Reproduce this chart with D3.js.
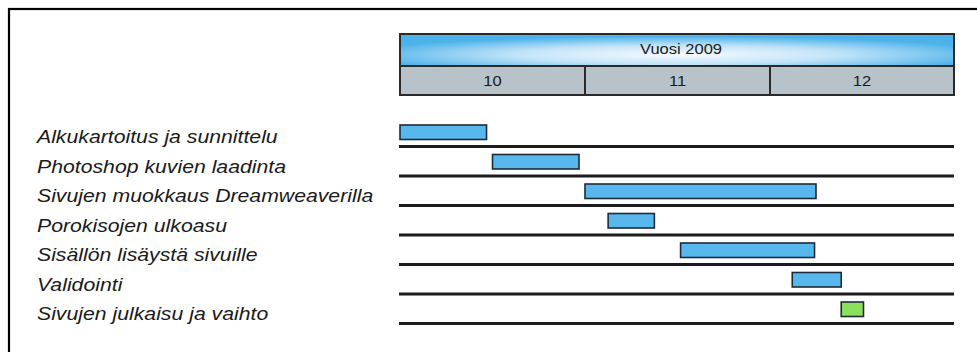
<!DOCTYPE html>
<html>
<head>
<meta charset="utf-8">
<script src="https://cdn.jsdelivr.net/npm/d3@7"></script>
<style>
  html, body { margin: 0; padding: 0; background: #fff; }
  svg { display: block; }
</style>
</head>
<body>
<svg id="chart" width="977" height="352"></svg>
<script>
// Project schedule, autumn 2009
const yearLabel = "Vuosi 2009";
const monthStarts = ["2009-10-01", "2009-11-01", "2009-12-01", "2010-01-01"];
const monthLabels = ["10", "11", "12"];

const tasks = [
  "Alkukartoitus ja sunnittelu",
  "Photoshop kuvien laadinta",
  "Sivujen muokkaus Dreamweaverilla",
  "Porokisojen ulkoasu",
  "Sisällön lisäystä sivuille",
  "Validointi",
  "Sivujen julkaisu ja vaihto"
];
const starts = ["2009-10-01 00", "2009-10-16 12", "2009-11-01 00", "2009-11-04 18", "2009-11-16 12", "2009-12-04 18", "2009-12-13 00"];
const ends   = ["2009-10-15 12", "2009-10-31 00", "2009-12-08 18", "2009-11-12 06", "2009-12-08 12", "2009-12-13 00", "2009-12-16 18"];
const phases = ["työ", "työ", "työ", "työ", "työ", "työ", "julkaisu"];

const parse = d3.timeParse("%Y-%m-%d");
const parseT = d3.timeParse("%Y-%m-%d %H");
const svg = d3.select("#chart");
const sx = 1.18; // horizontal text stretch

// Outer frame
svg.append("rect")
  .attr("x", 9).attr("y", 9).attr("width", 1000).attr("height", 400)
  .attr("fill", "none").attr("stroke", "#000").attr("stroke-width", 2.2);

// Time axis: each month gets an equal column
const x = d3.scaleTime()
  .domain(monthStarts.map(parse))
  .range([400, 585, 770, 954]);

const y = d3.scaleBand().domain(tasks).range([117, 323.5]);

const defs = svg.append("defs");
const grad = defs.append("radialGradient").attr("id", "yearFill")
  .attr("cx", 0.5).attr("cy", 0.65).attr("r", 0.58);
grad.append("stop").attr("offset", 0).attr("stop-color", "#f6fbfe");
grad.append("stop").attr("offset", 0.5).attr("stop-color", "#c2e4f8");
grad.append("stop").attr("offset", 1).attr("stop-color", "#4cb2ea");

const x0 = x.range()[0], x1 = x.range()[x.range().length - 1];
const hTop = 34, hMid = 66, hBot = 95;

// Header: year band
svg.append("rect")
  .attr("x", x0).attr("y", hTop).attr("width", x1 - x0).attr("height", hMid - hTop)
  .attr("fill", "url(#yearFill)");
// Header: month band
svg.append("rect")
  .attr("x", x0).attr("y", hMid).attr("width", x1 - x0).attr("height", hBot - hMid)
  .attr("fill", "#b8c2c9");

const months = monthLabels.map((m, i) => ({
  label: m,
  a: parse(monthStarts[i]),
  b: parse(monthStarts[i + 1])
}));

svg.append("g").selectAll("line").data(months.slice(1)).join("line")
  .attr("x1", d => x(d.a)).attr("x2", d => x(d.a))
  .attr("y1", hMid).attr("y2", hBot)
  .attr("stroke", "#2a2a2a").attr("stroke-width", 2);

svg.append("line")
  .attr("x1", x0).attr("x2", x1).attr("y1", hMid).attr("y2", hMid)
  .attr("stroke", "#2a2a2a").attr("stroke-width", 2);

svg.append("rect")
  .attr("x", x0).attr("y", hTop).attr("width", x1 - x0).attr("height", hBot - hTop)
  .attr("fill", "none").attr("stroke", "#2a2a2a").attr("stroke-width", 2);

const headFont = "'Liberation Sans', Arial, sans-serif";
svg.append("text")
  .attr("transform", `translate(${(x0 + x1) / 2 + 4},${hTop + 20}) scale(${sx},1)`)
  .attr("text-anchor", "middle")
  .attr("font-family", headFont).attr("font-size", 14)
  .attr("fill", "#1a1a1a")
  .text(yearLabel);

svg.append("g").selectAll("text").data(months).join("text")
  .attr("transform", d => `translate(${(x(d.a) + x(d.b)) / 2},${hMid + 20}) scale(${sx},1)`)
  .attr("text-anchor", "middle")
  .attr("font-family", headFont).attr("font-size", 14)
  .attr("fill", "#1a1a1a")
  .text(d => d.label);

// Task rows
const rows = tasks.map((t, i) => ({
  task: t, start: parseT(starts[i]), end: parseT(ends[i]), phase: phases[i]
}));

svg.append("g").selectAll("line").data(rows).join("line")
  .attr("x1", x0 - 1).attr("x2", x1)
  .attr("y1", d => y(d.task) + y.step()).attr("y2", d => y(d.task) + y.step())
  .attr("stroke", "#1c1c1c").attr("stroke-width", 2.8);

const color = d3.scaleOrdinal().domain(["työ", "julkaisu"]).range(["#58b8ee", "#8be05c"]);

svg.append("g").selectAll("rect").data(rows).join("rect")
  .attr("x", d => x(d.start))
  .attr("y", d => y(d.task) + 8)
  .attr("width", d => x(d.end) - x(d.start))
  .attr("height", 14.5)
  .attr("fill", d => color(d.phase))
  .attr("stroke", "#1e2b38").attr("stroke-width", 1.6);

svg.append("g").selectAll("text").data(rows).join("text")
  .attr("transform", d => `translate(37,${y(d.task) + 26}) scale(${sx},1)`)
  .attr("font-family", headFont).attr("font-style", "italic")
  .attr("font-size", 18)
  .attr("fill", "#1a1a1a")
  .text(d => d.task);
</script>
</body>
</html>
